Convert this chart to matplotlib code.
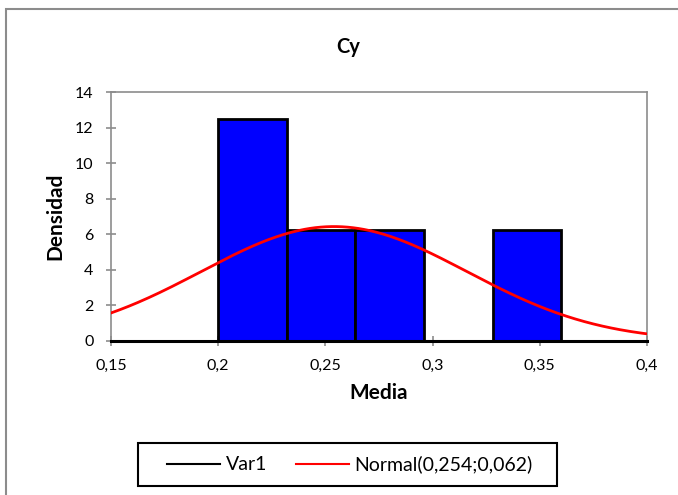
import numpy as np
import matplotlib.pyplot as plt
from matplotlib.patches import Rectangle
from matplotlib.ticker import FuncFormatter
from matplotlib.lines import Line2D

plt.rcParams['font.family'] = ['Lato', 'DejaVu Sans']

# histogram of the sample means (density scale)
bin_left = [0.200, 0.232, 0.264, 0.296, 0.328]
bin_width = 0.032
density = [12.5, 6.25, 6.25, 0.0, 6.25]

mu, sigma = 0.254, 0.062
xticks = [0.15, 0.2, 0.25, 0.3, 0.35, 0.4]
yticks = [0, 2, 4, 6, 8, 10, 12, 14]
series_names = ['Var1', 'Normal(0,254;0,062)']

W, H = 678, 495
fig = plt.figure(figsize=(W / 100, H / 100), dpi=100)

# chart area border (runs off the right and bottom edges)
fig.patches.append(Rectangle((6 / W, -0.1), 1.2, 0.1 + 1 - 9 / H,
                             transform=fig.transFigure, fill=False,
                             edgecolor='#8c8c8c', linewidth=1.5))

ax = fig.add_axes([111 / W, 1 - 341 / H, 536 / W, 249 / H])

ax.bar(bin_left, density, width=bin_width, align='edge',
       color='#0000ff', edgecolor='black', linewidth=2, zorder=2)

xs = np.linspace(0.15, 0.4, 300)
pdf = np.exp(-0.5 * ((xs - mu) / sigma) ** 2) / (sigma * np.sqrt(2 * np.pi))
ax.plot(xs, pdf, color='red', linewidth=2, zorder=3)

ax.set_xlim(0.15, 0.4)
ax.set_ylim(0, 14)
ax.set_xticks(xticks)
ax.set_yticks(yticks)
ax.xaxis.set_major_formatter(FuncFormatter(lambda v, p: ('%g' % v).replace('.', ',')))

for side in ['top', 'right', 'left']:
    ax.spines[side].set_color('#8c8c8c')
    ax.spines[side].set_linewidth(1.2)
ax.spines['bottom'].set_color('black')
ax.spines['bottom'].set_linewidth(2.2)
ax.spines['bottom'].set_zorder(4)

ax.tick_params(axis='y', direction='inout', length=7, width=1.2,
               color='#8c8c8c', labelsize=11.5, pad=9)
ax.tick_params(axis='x', direction='inout', length=7, width=1.2,
               color='#8c8c8c', labelsize=11.5, pad=9.5)

fig.text(348 / W, 1 - 47 / H, 'Cy', fontsize=14.5, fontweight='bold',
         ha='center', va='center')
ax.set_xlabel('Media', fontsize=15, fontweight='bold', labelpad=7)
ax.set_ylabel('Densidad', fontsize=15, fontweight='bold', labelpad=7)

# legend box
fig.patches.append(Rectangle((138 / W, 1 - 486 / H), 419 / W, 43 / H,
                             transform=fig.transFigure, fill=False,
                             edgecolor='black', linewidth=1.5))
handles = [Line2D([], [], color='black', linewidth=1.5),
           Line2D([], [], color='red', linewidth=1.5)]
fig.legend(handles, series_names, ncol=2, loc='center',
           bbox_to_anchor=(350 / W, 1 - 464.5 / H),
           fontsize=14, frameon=False, columnspacing=1.5,
           handlelength=2.7, handletextpad=0.3)

fig.savefig('out.png', dpi=100)
